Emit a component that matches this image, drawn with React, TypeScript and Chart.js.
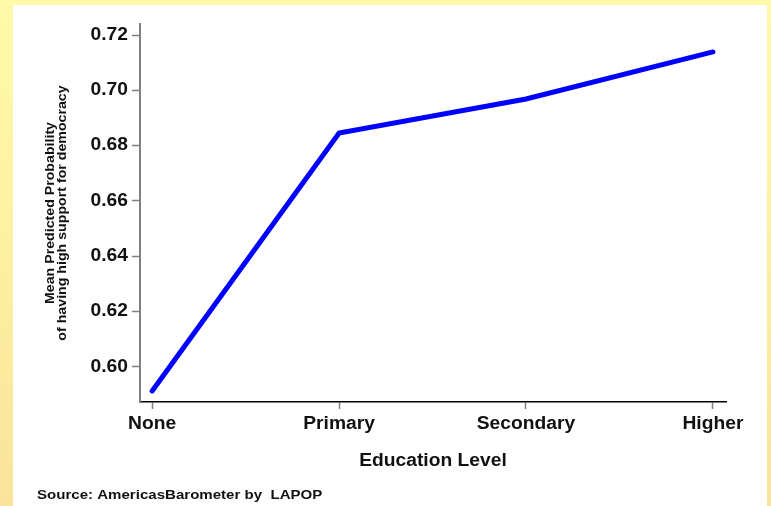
import React, { useEffect, useRef } from "react";
import { Chart, registerables } from "chart.js";

Chart.register(...registerables);

const categories = ["None", "Primary", "Secondary", "Higher"];
const meanProbability = [0.5913, 0.6846, 0.6969, 0.7139];
const yTickValues = [0.6, 0.62, 0.64, 0.66, 0.68, 0.7, 0.72];
const yTitleLines = ["Mean Predicted Probability", "of having high support for democracy"];
const xTitle = "Education Level";
const sourceNote = "Source: AmericasBarometer by  LAPOP";

const FONT = "'Liberation Sans', Arial, Helvetica, sans-serif";
const TEXT_STRETCH = 1.1;

// Widen glyphs horizontally (the reference text is slightly stretched)
const stretchTextPlugin = {
  id: "stretchText",
  beforeDraw(chart: any) {
    const ctx = chart.ctx;
    if (ctx.__stretched) return;
    ctx.__stretched = true;
    const orig = ctx.fillText.bind(ctx);
    ctx.fillText = function (text: string, x: number, y: number, maxWidth?: number) {
      ctx.save();
      ctx.translate(x, y);
      ctx.scale(TEXT_STRETCH, 1);
      if (maxWidth !== undefined && maxWidth !== null && !isNaN(maxWidth)) {
        orig(text, 0, 0, maxWidth / TEXT_STRETCH);
      } else {
        orig(text, 0, 0);
      }
      ctx.restore();
    };
  },
};

const sourcePlugin = {
  id: "sourceNote",
  afterDraw(chart: any) {
    const ctx = chart.ctx;
    ctx.save();
    ctx.font = `bold 13.7px ${FONT}`;
    ctx.fillStyle = "#111111";
    ctx.textAlign = "left";
    ctx.textBaseline = "alphabetic";
    ctx.fillText(sourceNote, 37, 498.5);
    ctx.restore();
  },
};

export default function App() {
  const canvasRef = useRef<HTMLCanvasElement | null>(null);

  useEffect(() => {
    if (!canvasRef.current) return;
    const chart = new Chart(canvasRef.current, {
      type: "line",
      data: {
        datasets: [
          {
            data: meanProbability.map((v, i) => ({ x: i, y: v })),
            borderColor: "#0000ff",
            borderWidth: 5,
            borderCapStyle: "round",
            borderJoinStyle: "miter",
            pointRadius: 0,
            fill: false,
            tension: 0,
          },
        ],
      },
      options: {
        animation: false,
        responsive: false,
        maintainAspectRatio: false,
        layout: { padding: { top: 24, right: 45, left: 0, bottom: 0 } },
        plugins: {
          legend: { display: false },
          tooltip: { enabled: false },
          title: { display: false },
        },
        scales: {
          x: {
            type: "linear",
            min: -0.065,
            max: 3.07,
            afterBuildTicks: (scale: any) => {
              scale.ticks = categories.map((_, i) => ({ value: i }));
            },
            afterFit: (scale: any) => {
              scale.height = 104;
            },
            border: { color: "#000000", width: 1.5 },
            grid: {
              drawOnChartArea: false,
              drawTicks: true,
              tickLength: 7,
              tickColor: "#808080",
              tickWidth: 1.5,
            },
            ticks: {
              autoSkip: false,
              maxRotation: 0,
              padding: 5,
              color: "#111111",
              font: { family: FONT, size: 17.5, weight: "bold" },
              callback: (v: any) => categories[Math.round(Number(v))] ?? "",
            },
            title: {
              display: true,
              text: xTitle,
              color: "#111111",
              font: { family: FONT, size: 17.5, weight: "bold", lineHeight: 1.2 },
              padding: { top: 0, bottom: 34.5 },
            },
          },
          y: {
            type: "linear",
            min: 0.5873,
            max: 0.724,
            afterBuildTicks: (scale: any) => {
              scale.ticks = yTickValues.map((v) => ({ value: v }));
            },
            afterFit: (scale: any) => {
              scale.width = 140;
            },
            border: { color: "#808080", width: 2 },
            grid: {
              drawOnChartArea: false,
              drawTicks: true,
              tickLength: 8,
              tickColor: "#808080",
              tickWidth: 1.5,
            },
            ticks: {
              padding: 4,
              color: "#111111",
              font: { family: FONT, size: 17.5, weight: "bold" },
              callback: (v: any) => Number(v).toFixed(2),
            },
            title: {
              display: true,
              text: yTitleLines,
              color: "#111111",
              font: { family: FONT, size: 12.9, weight: "bold", lineHeight: 0.93 },
              padding: { top: 44, bottom: 0 },
            },
          },
        },
      },
      plugins: [stretchTextPlugin, sourcePlugin],
    } as any);
    return () => chart.destroy();
  }, []);

  return (
    <div
      style={{
        position: "fixed",
        left: 0,
        top: 0,
        width: 771,
        height: 506,
        background: "linear-gradient(to bottom, #fffaa8 0%, #fdf0a2 50%, #fbe39b 100%)",
        overflow: "hidden",
      }}
    >
      <div
        style={{
          position: "absolute",
          left: 13,
          top: 5,
          width: 754,
          height: 501,
          background: "#ffffff",
        }}
      />
      <canvas
        ref={canvasRef}
        width={771}
        height={506}
        style={{ position: "absolute", left: 0, top: 0, width: 771, height: 506 }}
      />
    </div>
  );
}
